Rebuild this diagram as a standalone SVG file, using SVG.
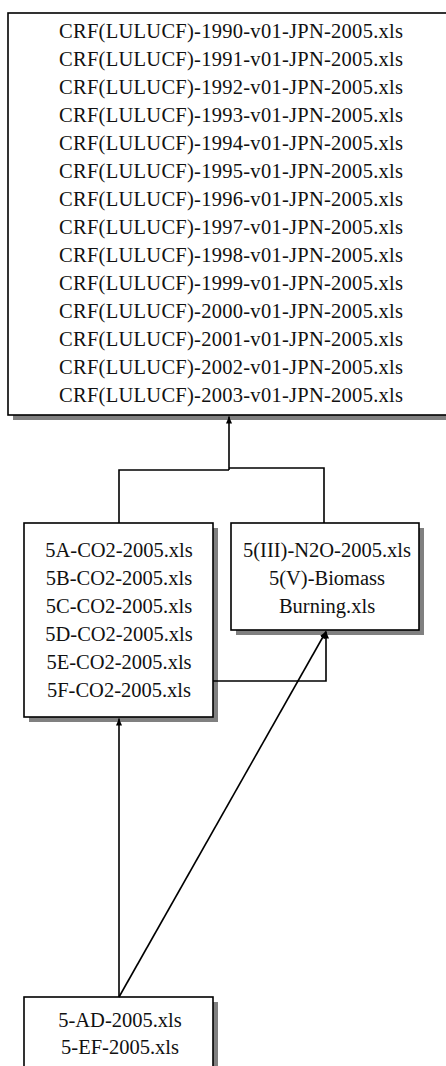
<svg xmlns="http://www.w3.org/2000/svg" width="446" height="1066" viewBox="0 0 446 1066">
<style>
.box{fill:#fff;stroke:#000;stroke-width:1.6}
.sh{fill:#808080}
.t{font-family:"Liberation Serif","Times New Roman",serif;font-size:20.5px;fill:#111;text-anchor:middle}
.c{fill:none;stroke:#000;stroke-width:1.6}
</style>
<defs>
<marker id="ah" markerUnits="userSpaceOnUse" markerWidth="8" markerHeight="8" refX="7" refY="3" orient="auto">
<path d="M0,0 L7,3 L0,6 Z" fill="#000"/>
</marker>
</defs>
<g id="node-crf">
<rect class="sh" x="13" y="18" width="440" height="402"/>
<rect class="box" x="8" y="13" width="440" height="402"/>
<text class="t" x="231" y="38" textLength="344">CRF(LULUCF)-1990-v01-JPN-2005.xls</text>
<text class="t" x="231" y="66" textLength="344">CRF(LULUCF)-1991-v01-JPN-2005.xls</text>
<text class="t" x="231" y="94" textLength="344">CRF(LULUCF)-1992-v01-JPN-2005.xls</text>
<text class="t" x="231" y="122" textLength="344">CRF(LULUCF)-1993-v01-JPN-2005.xls</text>
<text class="t" x="231" y="150" textLength="344">CRF(LULUCF)-1994-v01-JPN-2005.xls</text>
<text class="t" x="231" y="178" textLength="344">CRF(LULUCF)-1995-v01-JPN-2005.xls</text>
<text class="t" x="231" y="206" textLength="344">CRF(LULUCF)-1996-v01-JPN-2005.xls</text>
<text class="t" x="231" y="234" textLength="344">CRF(LULUCF)-1997-v01-JPN-2005.xls</text>
<text class="t" x="231" y="262" textLength="344">CRF(LULUCF)-1998-v01-JPN-2005.xls</text>
<text class="t" x="231" y="290" textLength="344">CRF(LULUCF)-1999-v01-JPN-2005.xls</text>
<text class="t" x="231" y="318" textLength="344">CRF(LULUCF)-2000-v01-JPN-2005.xls</text>
<text class="t" x="231" y="346" textLength="344">CRF(LULUCF)-2001-v01-JPN-2005.xls</text>
<text class="t" x="231" y="374" textLength="344">CRF(LULUCF)-2002-v01-JPN-2005.xls</text>
<text class="t" x="231" y="402" textLength="344">CRF(LULUCF)-2003-v01-JPN-2005.xls</text>
</g>
<g id="node-co2">
<rect class="sh" x="29" y="528" width="189" height="194"/>
<rect class="box" x="24" y="523" width="189" height="194"/>
<text class="t" x="119" y="557">5A-CO2-2005.xls</text>
<text class="t" x="119" y="585">5B-CO2-2005.xls</text>
<text class="t" x="119" y="613">5C-CO2-2005.xls</text>
<text class="t" x="119" y="641">5D-CO2-2005.xls</text>
<text class="t" x="119" y="669">5E-CO2-2005.xls</text>
<text class="t" x="119" y="697">5F-CO2-2005.xls</text>
</g>
<g id="node-n2o">
<rect class="sh" x="236" y="528" width="188" height="107"/>
<rect class="box" x="231" y="523" width="188" height="107"/>
<text class="t" x="327" y="557">5(III)-N2O-2005.xls</text>
<text class="t" x="327" y="585">5(V)-Biomass</text>
<text class="t" x="327" y="613">Burning.xls</text>
</g>
<g id="node-ad">
<rect class="sh" x="29" y="1002" width="189" height="100"/>
<rect class="box" x="24" y="997" width="189" height="100"/>
<text class="t" x="120" y="1027">5-AD-2005.xls</text>
<text class="t" x="120" y="1054">5-EF-2005.xls</text>
</g>
<g id="connectors">
<path class="c" d="M119,523 V470 H229"/>
<path class="c" d="M324,523 V468 H229"/>
<path class="c" d="M229,470 V416.5" marker-end="url(#ah)"/>
<path class="c" d="M213,681 H326 V631.5" marker-end="url(#ah)"/>
<path class="c" d="M119,997 L326,631.5" marker-end="url(#ah)"/>
<path class="c" d="M119,997 V718.5" marker-end="url(#ah)"/>
</g>
</svg>
